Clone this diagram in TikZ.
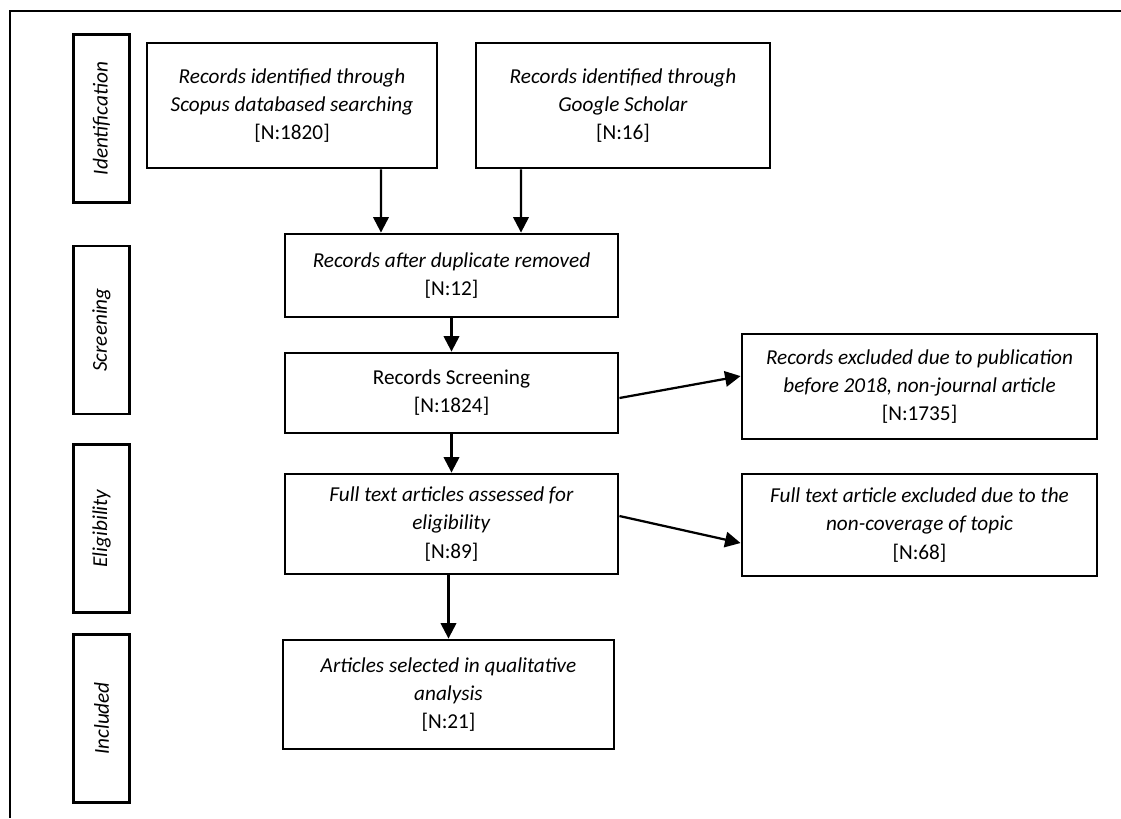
\documentclass[tikz,border=0pt]{standalone}
\usepackage{fontspec}
\setmainfont{Carlito}
\usepackage{tikz}
\usetikzlibrary{calc, positioning, arrows.meta, shapes}

\begin{document}
\begin{tikzpicture}[x=0.025cm, y=-0.025cm, >={Triangle[length=11pt, width=11pt]},
  box/.style={draw, line width=2pt, rectangle, align=center, inner sep=2pt, font=\fontsize{15.1}{20}\selectfont},
  phase/.style={draw, line width=2pt, rectangle, minimum width=1.4cm, minimum height=4.2cm, inner sep=0pt},
  phasetxt/.style={rotate=90, font=\fontsize{15.1}{18}\selectfont\itshape},
  flow/.style={->, line width=1.6pt}]
  \useasboundingbox (0,0) rectangle (1121,818);
  \draw[line width=2pt] (1121,11) -- (10,11) -- (10,818);

  \node[phase] (ident) at (101.5,118.5) {};
  \node[phase] (scr) at (101.5,330) {};
  \node[phase] (elig) at (101.5,528.5) {};
  \node[phase] (incl) at (101.5,718.5) {};
  \node[phasetxt] (identtxt) at (ident) {Identification};
  \node[phasetxt] (scrtxt) at (scr) {Screening};
  \node[phasetxt] (eligtxt) at (elig) {Eligibility};
  \node[phasetxt] (incltxt) at (incl) {Included};

  \node[box, minimum width=7.25cm, minimum height=3.125cm] (scopus) at (292,105.5) {\textit{Records identified through}\\ \textit{Scopus databased searching}\\ {[N:1820]}};
  \node[box, minimum width=7.35cm, minimum height=3.125cm] (google) at (623,105.5) {\textit{Records identified through}\\ \textit{Google Scholar}\\ {[N:16]}};
  \node[box, minimum width=8.325cm, minimum height=2.075cm] (dup) at (451.5,275.5) {\textit{Records after duplicate removed}\\ {[N:12]}};
  \node[box, minimum width=8.325cm, minimum height=2cm] (screen) at (451.5,393) {Records Screening\\ {[N:1824]}};
  \node[box, minimum width=8.325cm, minimum height=2.5cm] (full) at (451.5,524) {\textit{Full text articles assessed for}\\ \textit{eligibility}\\ {[N:89]}};
  \node[box, minimum width=8.275cm, minimum height=2.725cm] (sel) at (448.5,694.5) {\textit{Articles selected in qualitative}\\ \textit{analysis}\\ {[N:21]}};
  \node[box, minimum width=8.875cm, minimum height=2.625cm] (excl) at (919.5,386.5) {\textit{Records excluded due to publication}\\ \textit{before 2018, non-journal article}\\ {[N:1735]}};
  \node[box, minimum width=8.875cm, minimum height=2.55cm] (exclfull) at (919.5,525) {\textit{Full text article excluded due to the}\\ \textit{non-coverage of topic}\\ {[N:68]}};

  \draw[flow] ([xshift=2.225cm]scopus.south) -- ([xshift=-1.7625cm]dup.north);
  \draw[flow] ([xshift=-2.55cm]google.south) -- ([xshift=1.7375cm]dup.north);
  \draw[flow] (dup) -- (screen);
  \draw[flow] (screen) -- (full);
  \draw[flow] (full.south -| sel.north) -- (sel);
  \draw[flow] ([yshift=-0.125cm]screen.east) -- ([yshift=0.26cm]excl.west);
  \draw[flow] ([yshift=0.2cm]full.east) -- ([yshift=-0.45cm]exclfull.west);
\end{tikzpicture}
\end{document}
